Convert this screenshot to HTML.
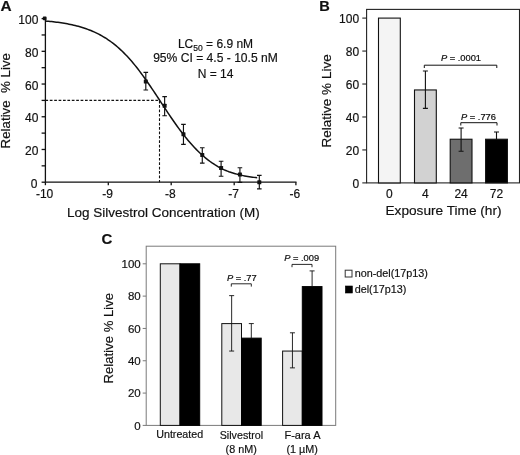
<!DOCTYPE html>
<html><head><meta charset="utf-8"><title>Figure</title>
<style>html,body{margin:0;padding:0;background:#fff;}text{stroke:#111;stroke-width:.18px}text.p{stroke-width:.22px}body{width:520px;height:455px;overflow:hidden;font-family:"Liberation Sans",sans-serif;}</style>
</head><body>
<svg width="520" height="455" viewBox="0 0 520 455" style="display:block;will-change:transform;font-family:'Liberation Sans',sans-serif" fill="#111">
<rect width="520" height="455" fill="#fff"/>
<text x="0.6" y="10.5" font-size="15.4" font-weight="bold">A</text>
<g stroke="#111" stroke-width="1.3" fill="none">
<path d="M45.4 17.999999999999993 V182.2 H296.5"/>
<path d="M41.6 182.20 H45.4"/>
<path d="M41.6 165.84 H45.4"/>
<path d="M41.6 149.48 H45.4"/>
<path d="M41.6 133.12 H45.4"/>
<path d="M41.6 116.76 H45.4"/>
<path d="M41.6 100.40 H45.4"/>
<path d="M41.6 84.04 H45.4"/>
<path d="M41.6 67.68 H45.4"/>
<path d="M41.6 51.32 H45.4"/>
<path d="M41.6 34.96 H45.4"/>
<path d="M41.6 18.60 H45.4"/>
<path d="M45.40 182.2 V185.2"/>
<path d="M108.30 182.2 V185.2"/>
<path d="M171.20 182.2 V185.2"/>
<path d="M234.20 182.2 V185.2"/>
<path d="M295.90 182.2 V185.2"/>
</g>
<text x="37.4" y="187.70" font-size="12" text-anchor="end">0</text>
<text x="38.4" y="154.98" font-size="12" text-anchor="end">20</text>
<text x="38.4" y="122.26" font-size="12" text-anchor="end">40</text>
<text x="38.4" y="89.54" font-size="12" text-anchor="end">60</text>
<text x="38.4" y="56.82" font-size="12" text-anchor="end">80</text>
<text x="38.4" y="24.10" font-size="12" text-anchor="end">100</text>
<text x="44.60" y="198" font-size="12" text-anchor="middle">-10</text>
<text x="107.50" y="198" font-size="12" text-anchor="middle">-9</text>
<text x="170.40" y="198" font-size="12" text-anchor="middle">-8</text>
<text x="233.60" y="198" font-size="12" text-anchor="middle">-7</text>
<text x="294.90" y="198" font-size="12" text-anchor="middle">-6</text>
<text x="163.3" y="217.2" font-size="13.5" text-anchor="middle">Log Silvestrol Concentration (M)</text>
<text transform="translate(10.3,148.4) rotate(-90)" font-size="13.3" xml:space="preserve">Relative  % Live</text>
<path d="M45.40 20.99 L46.97 21.13 L48.54 21.28 L50.11 21.44 L51.68 21.60 L53.24 21.78 L54.81 21.96 L56.38 22.16 L57.95 22.36 L59.52 22.58 L61.09 22.81 L62.66 23.05 L64.23 23.31 L65.79 23.58 L67.36 23.86 L68.93 24.16 L70.50 24.48 L72.07 24.82 L73.64 25.17 L75.21 25.55 L76.78 25.94 L78.34 26.35 L79.91 26.79 L81.48 27.25 L83.05 27.73 L84.62 28.24 L86.19 28.78 L87.76 29.34 L89.33 29.94 L90.89 30.56 L92.46 31.22 L94.03 31.90 L95.60 32.63 L97.17 33.38 L98.74 34.18 L100.31 35.01 L101.88 35.88 L103.44 36.79 L105.01 37.74 L106.58 38.74 L108.15 39.78 L109.72 40.87 L111.29 42.00 L112.86 43.18 L114.43 44.41 L115.99 45.69 L117.56 47.03 L119.13 48.41 L120.70 49.84 L122.27 51.33 L123.84 52.87 L125.41 54.46 L126.98 56.10 L128.54 57.80 L130.11 59.55 L131.68 61.35 L133.25 63.21 L134.82 65.11 L136.39 67.06 L137.96 69.06 L139.53 71.10 L141.09 73.19 L142.66 75.32 L144.23 77.49 L145.80 79.70 L147.37 81.94 L148.94 84.21 L150.51 86.50 L152.08 88.83 L153.64 91.17 L155.21 93.53 L156.78 95.90 L158.35 98.28 L159.92 100.67 L161.49 103.06 L163.06 105.45 L164.63 107.83 L166.19 110.20 L167.76 112.56 L169.33 114.89 L170.90 117.21 L172.47 119.50 L174.04 121.77 L175.61 124.00 L177.18 126.20 L178.74 128.36 L180.31 130.48 L181.88 132.56 L183.45 134.60 L185.02 136.59 L186.59 138.53 L188.16 140.42 L189.73 142.27 L191.29 144.06 L192.86 145.80 L194.43 147.48 L196.00 149.12 L197.57 150.70 L199.14 152.23 L200.71 153.70 L202.28 155.13 L203.84 156.50 L205.41 157.82 L206.98 159.09 L208.55 160.31 L210.12 161.48 L211.69 162.61 L213.26 163.68 L214.83 164.72 L216.39 165.70 L217.96 166.65 L219.53 167.55 L221.10 168.42 L222.67 169.15 L224.24 169.84 L225.81 170.49 L227.38 171.11 L228.94 171.70 L230.51 172.25 L232.08 172.77 L233.65 173.26 L235.22 173.72 L236.79 174.15 L238.36 174.55 L239.93 174.93 L241.49 175.29 L243.06 175.62 L244.63 175.93 L246.20 176.22 L247.77 176.48 L249.34 176.73 L250.91 176.96 L252.48 177.17 L254.04 177.37 L255.61 177.55 L257.18 177.71" stroke="#111" stroke-width="1.5" fill="none"/>
<path d="M45.4 100.40 H159.50 V182.2" stroke="#111" stroke-width="1.1" stroke-dasharray="2.7 1.7" fill="none"/>
<g stroke="#111" stroke-width="1.15" fill="none">
<path d="M145.80 72.30 V90.00 M143.50 72.30 h4.6 M143.50 90.00 h4.6"/>
<path d="M164.63 96.60 V115.70 M162.33 96.60 h4.6 M162.33 115.70 h4.6"/>
<path d="M183.45 124.30 V144.30 M181.15 124.30 h4.6 M181.15 144.30 h4.6"/>
<path d="M202.28 147.70 V163.10 M199.97 147.70 h4.6 M199.97 163.10 h4.6"/>
<path d="M221.10 161.20 V176.20 M218.80 161.20 h4.6 M218.80 176.20 h4.6"/>
<path d="M239.92 167.70 V182.30 M237.62 167.70 h4.6 M237.62 182.30 h4.6"/>
<path d="M259.31 175.40 V188.90 M257.01 175.40 h4.6 M257.01 188.90 h4.6"/>
</g>
<rect x="143.80" y="79.40" width="4" height="4" rx="0.5"/>
<rect x="162.63" y="103.70" width="4" height="4" rx="0.5"/>
<rect x="181.45" y="132.30" width="4" height="4" rx="0.5"/>
<rect x="200.28" y="152.90" width="4" height="4" rx="0.5"/>
<rect x="219.10" y="166.00" width="4" height="4" rx="0.5"/>
<rect x="237.92" y="172.60" width="4" height="4" rx="0.5"/>
<rect x="257.31" y="180.30" width="4" height="4" rx="0.5"/>
<rect x="42.8" y="16.60" width="3.8" height="3.6" rx="0.8"/>
<text x="215.5" y="47.7" font-size="12" text-anchor="middle">LC<tspan font-size="8.5" dy="3.2">50</tspan><tspan dy="-3.2"> = 6.9 nM</tspan></text>
<text x="215.5" y="62.2" font-size="12.1" text-anchor="middle">95% CI = 4.5 - 10.5 nM</text>
<text x="215.5" y="77.5" font-size="12" text-anchor="middle">N = 14</text>
<text x="319.2" y="10.8" font-size="14.6" font-weight="bold">B</text>
<rect x="366.6" y="9.4" width="152.89999999999998" height="173.5" fill="none" stroke="#222" stroke-width="1.1"/>
<g stroke="#222" stroke-width="1.1">
<path d="M362.3 182.90 H366.6"/>
<path d="M362.3 149.94 H366.6"/>
<path d="M362.3 116.98 H366.6"/>
<path d="M362.3 84.02 H366.6"/>
<path d="M362.3 51.06 H366.6"/>
<path d="M362.3 18.10 H366.6"/>
</g>
<text x="359.1" y="187.90" font-size="12" text-anchor="end">0</text>
<text x="359.1" y="154.94" font-size="12" text-anchor="end">20</text>
<text x="359.1" y="121.98" font-size="12" text-anchor="end">40</text>
<text x="359.1" y="89.02" font-size="12" text-anchor="end">60</text>
<text x="359.1" y="56.06" font-size="12" text-anchor="end">80</text>
<text x="359.1" y="23.10" font-size="12" text-anchor="end">100</text>
<rect x="378.5" y="18.10" width="21.8" height="164.80" fill="#f4f4f4" stroke="#111" stroke-width="1.1"/>
<text x="389.4" y="197.8" font-size="12" text-anchor="middle">0</text>
<rect x="414.5" y="89.95" width="21.8" height="92.95" fill="#d2d2d2" stroke="#111" stroke-width="1.1"/>
<path d="M425.4 71.00 V108.41 M422.9 71.00 h5 M422.9 108.41 h5" stroke="#111" stroke-width="1.1" fill="none"/>
<text x="425.4" y="197.8" font-size="12" text-anchor="middle">4</text>
<rect x="450.2" y="139.23" width="21.8" height="43.67" fill="#6e6e6e" stroke="#111" stroke-width="1.1"/>
<path d="M461.09999999999997 128.02 V151.26 M458.59999999999997 128.02 h5 M458.59999999999997 151.26 h5" stroke="#111" stroke-width="1.1" fill="none"/>
<text x="461.09999999999997" y="197.8" font-size="12" text-anchor="middle">24</text>
<rect x="485.6" y="139.23" width="21.8" height="43.67" fill="#000" stroke="#111" stroke-width="1.1"/>
<path d="M496.5 131.98 V139.23 M494.0 131.98 h5" stroke="#111" stroke-width="1.1" fill="none"/>
<text x="496.5" y="197.8" font-size="12" text-anchor="middle">72</text>
<text x="443.5" y="215.3" font-size="13.65" text-anchor="middle">Exposure Time (hr)</text>
<text transform="translate(331.2,147.4) rotate(-90)" font-size="13.5">Relative % Live</text>
<path d="M424.3 68.0 V65.2 H496.8 V68.0" stroke="#111" stroke-width="1.0" fill="none"/>
<text x="461" y="61.4" font-size="9.3" class="p" text-anchor="middle"><tspan font-style="italic">P</tspan> = .0001</text>
<path d="M460.8 125.5 V122.7 H497 V125.5" stroke="#111" stroke-width="1.0" fill="none"/>
<text x="478.5" y="119.8" font-size="9.3" class="p" text-anchor="middle"><tspan font-style="italic">P</tspan> = .776</text>
<text x="101.4" y="243.9" font-size="15" font-weight="bold">C</text>
<rect x="146.2" y="246.2" width="189.5" height="179.2" fill="none" stroke="#7a7a7a" stroke-width="1"/>
<g stroke="#7a7a7a" stroke-width="1">
<path d="M142.7 425.40 H146.2"/>
<path d="M142.7 393.08 H146.2"/>
<path d="M142.7 360.76 H146.2"/>
<path d="M142.7 328.44 H146.2"/>
<path d="M142.7 296.12 H146.2"/>
<path d="M142.7 263.80 H146.2"/>
</g>
<text x="140.7" y="429.70" font-size="11.5" text-anchor="end">0</text>
<text x="140.7" y="397.38" font-size="11.5" text-anchor="end">20</text>
<text x="140.7" y="365.06" font-size="11.5" text-anchor="end">40</text>
<text x="140.7" y="332.74" font-size="11.5" text-anchor="end">60</text>
<text x="140.7" y="300.42" font-size="11.5" text-anchor="end">80</text>
<text x="140.7" y="268.10" font-size="11.5" text-anchor="end">100</text>
<text transform="translate(113.3,383.5) rotate(-90)" font-size="13.15">Relative % Live</text>
<rect x="160.3" y="263.80" width="19.7" height="161.60" fill="#e8e8e8" stroke="#111" stroke-width="1"/>
<rect x="180.0" y="263.80" width="19.7" height="161.60" fill="#000" stroke="#000" stroke-width="1"/>
<rect x="221.8" y="323.59" width="19.7" height="101.81" fill="#e8e8e8" stroke="#111" stroke-width="1"/>
<rect x="241.5" y="338.14" width="19.7" height="87.26" fill="#000" stroke="#000" stroke-width="1"/>
<path d="M231.65 295.64 V351.06 M229.15 295.64 h5 M229.15 351.06 h5" stroke="#111" stroke-width="0.9" fill="none"/>
<path d="M251.3 323.59 V338.14 M248.8 323.59 h5" stroke="#111" stroke-width="0.9" fill="none"/>
<rect x="282.6" y="351.06" width="19.7" height="74.34" fill="#e8e8e8" stroke="#111" stroke-width="1"/>
<rect x="302.3" y="286.59" width="19.7" height="138.81" fill="#000" stroke="#000" stroke-width="1"/>
<path d="M292.45000000000005 332.80 V367.87 M289.95000000000005 332.80 h5 M289.95000000000005 367.87 h5" stroke="#111" stroke-width="0.9" fill="none"/>
<path d="M312.1 270.91 V286.59 M309.6 270.91 h5" stroke="#111" stroke-width="0.9" fill="none"/>
<text x="179.7" y="438.2" font-size="10.7" text-anchor="middle">Untreated</text>
<text x="241.4" y="438.8" font-size="10.7" text-anchor="middle">Silvestrol</text>
<text x="241.2" y="452.6" font-size="10.8" text-anchor="middle">(8 nM)</text>
<text x="302.5" y="438.8" font-size="11" text-anchor="middle">F-ara A</text>
<text x="302.2" y="452.6" font-size="10.8" text-anchor="middle">(1 µM)</text>
<path d="M231.3 286.6 V283.8 H251.3 V286.6" stroke="#111" stroke-width="0.9" fill="none"/>
<text x="241.8" y="280.5" font-size="9.3" class="p" text-anchor="middle"><tspan font-style="italic">P</tspan> = .77</text>
<path d="M292 267.2 V264.4 H312 V267.2" stroke="#111" stroke-width="0.9" fill="none"/>
<text x="301.7" y="260.5" font-size="9.3" class="p" text-anchor="middle"><tspan font-style="italic">P</tspan> = .009</text>
<rect x="345.2" y="270.2" width="6.8" height="6.8" fill="#fff" stroke="#333" stroke-width="1"/>
<rect x="345.4" y="286" width="7" height="7" fill="#000" stroke="#000" stroke-width="0.6"/>
<text x="354.7" y="276.6" font-size="10.8">non-del(17p13)</text>
<text x="354.7" y="293" font-size="10.8">del(17p13)</text>
</svg>
</body></html>
